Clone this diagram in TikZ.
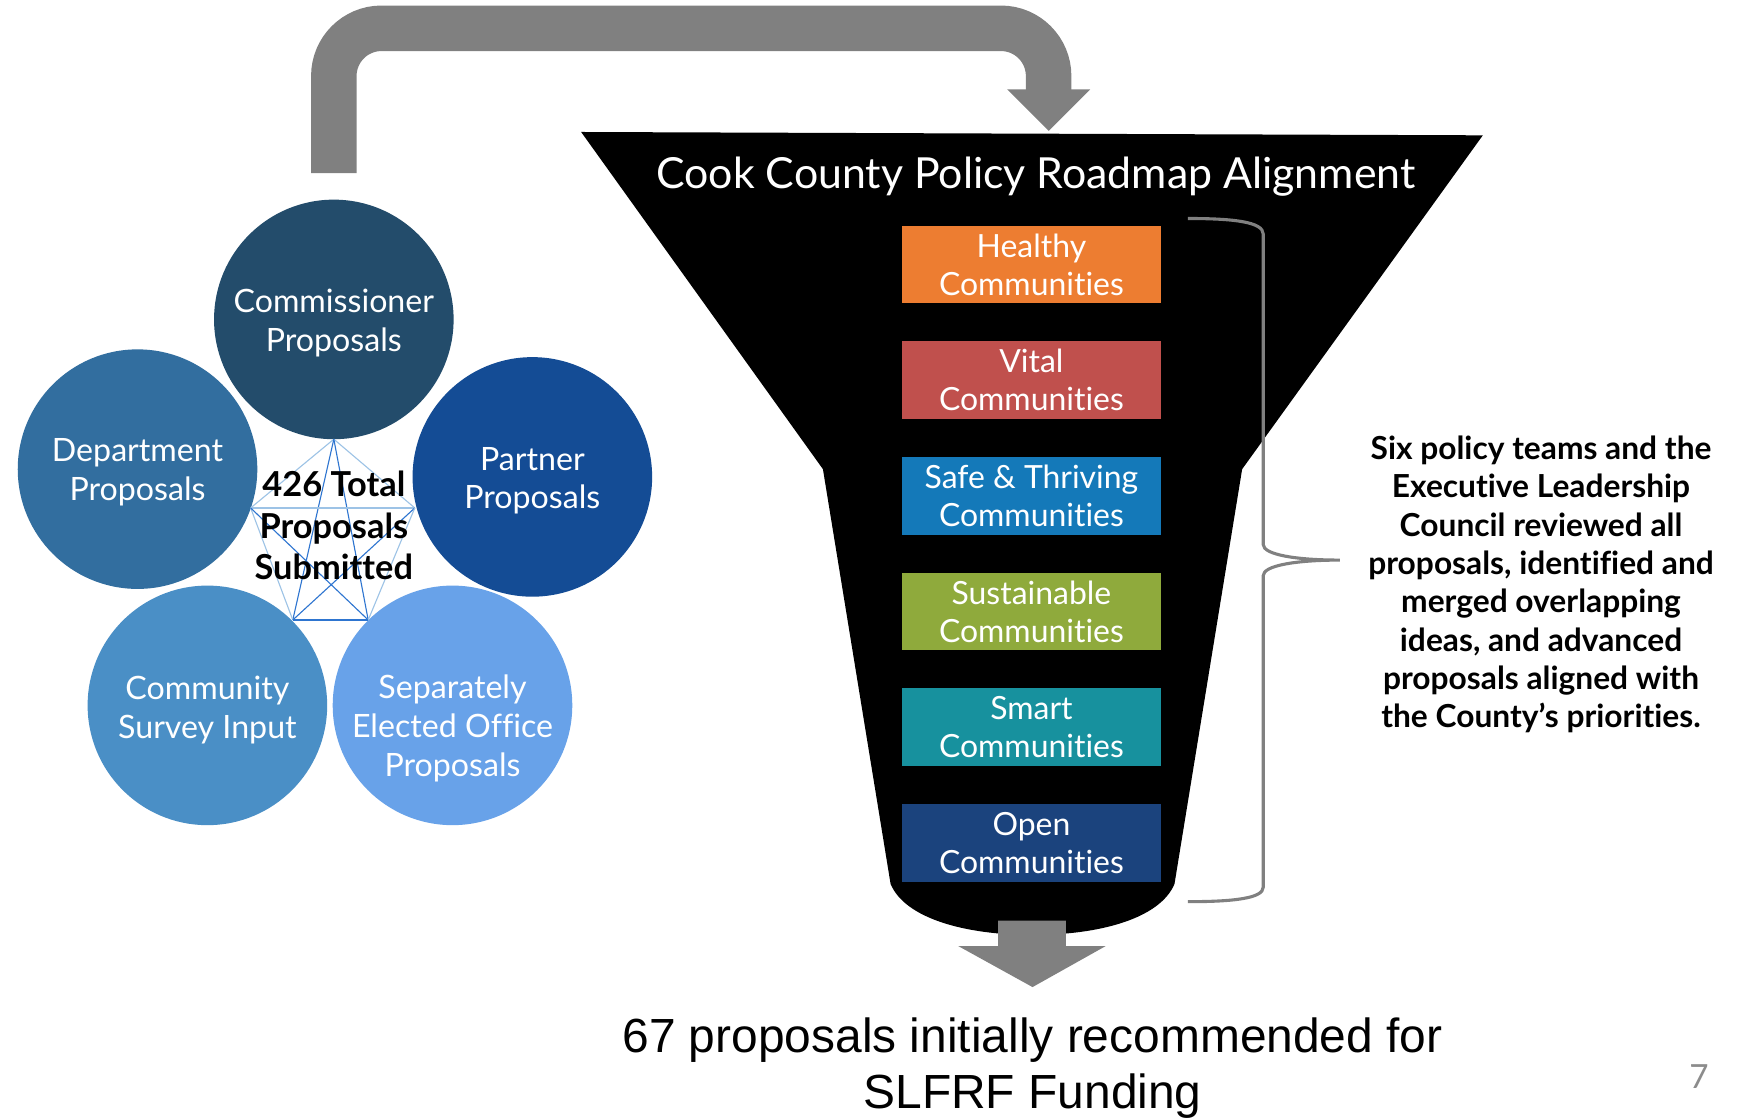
\documentclass[tikz,border=0pt]{standalone}
\usepackage{fontspec}
\setmainfont{Lato}[Ligatures={NoCommon,NoRare,NoContextual},Contextuals=NoAlternate]
\newfontfamily\arialfont{Liberation Sans}
\newcommand\nolig{\kern0pt}
\definecolor{ccomm}{RGB}{35,76,107}
\definecolor{cdept}{RGB}{50,110,159}
\definecolor{cpart}{RGB}{20,76,149}
\definecolor{ccomu}{RGB}{74,143,198}
\definecolor{csep}{RGB}{104,162,233}
\definecolor{chealthy}{RGB}{237,125,49}
\definecolor{cvital}{RGB}{192,80,77}
\definecolor{csafe}{RGB}{20,121,185}
\definecolor{csust}{RGB}{143,170,60}
\definecolor{csmart}{RGB}{23,145,158}
\definecolor{copen}{RGB}{27,67,125}
\definecolor{arrowgray}{RGB}{128,128,128}
\definecolor{weblight}{RGB}{157,195,230}
\definecolor{webdark}{RGB}{46,117,208}
\definecolor{numgray}{RGB}{140,140,140}
\begin{document}
\begin{tikzpicture}[x=0.5pt,y=-0.5pt,
  circ/.style={circle, minimum size=108pt, inner sep=0pt, text=white, align=center,
    font=\fontsize{14.5}{17.5}\selectfont},
  ctext/.style={text=white, align=center, font=\fontsize{14.5}{17.5}\selectfont},
  pbox/.style={minimum width=117pt, minimum height=35pt, inner sep=0pt, text=white,
    align=center, font=\fontsize{14.4}{17}\selectfont},
  webl/.style={line width=0.5pt, draw=weblight},
  webd/.style={line width=0.5pt, draw=webdark},
  bigarrow/.style={draw=arrowgray, line width=20.5pt, rounded corners=21.5pt},
  brace/.style={draw=arrowgray, line width=1.4pt},
]
\useasboundingbox (0,0) rectangle (1568,1008);
\fill[white] (0,0) rectangle (1568,1008);

% circles
\node[circ, fill=ccomm] (comm) at (301,288) {};
\node[ctext] (commtext) at (301,291) {Commissioner\\Proposals};
\node[circ, fill=cdept] (dept) at (124,423) {};
\node[ctext] (depttext) at (124,426) {Department\\Proposals};
\node[circ, fill=cpart] (part) at (480,430) {};
\node[ctext] (parttext) at (480,433.5) {Partner\\Proposals};
\node[circ, fill=ccomu] (comu) at (187,636) {};
\node[ctext] (comutext) at (187,640) {Community\\Survey Input};
\node[circ, fill=csep] (sep) at (408,636) {};
\node[ctext] (septext) at (408,657) {Separately\\Elected Of\nolig f\nolig ice\\Proposals};

% web between circles
\coordinate (p1) at (301,396);
\coordinate (p2) at (226,458);
\coordinate (p3) at (374,458);
\coordinate (p4) at (264,559);
\coordinate (p5) at (332,559);
\draw[webl] (p1) -- (p2);
\draw[webl] (p1) -- (p3);
\draw[webd] (p1) -- (p4);
\draw[webd] (p1) -- (p5);
\draw[webl] (p2) -- (p3);
\draw[webl] (p2) -- (p4);
\draw[webd] (p2) -- (p5);
\draw[webd] (p3) -- (p4);
\draw[webl] (p3) -- (p5);
\draw[webd] (p4) -- (p5);
\node[align=center, font=\bfseries\fontsize{15.5}{18.7}\selectfont] (total) at (301,474) {426 Total\\Proposals\\Submit\nolig t\nolig ed};

% top arrow
\coordinate (astart) at (301,156);
\coordinate (aend) at (945.5,81);
\coordinate (atop) at (0,25.5);
\draw[bigarrow] (astart) -- (astart |- atop) -- (aend |- atop) -- (aend);
\fill[arrowgray] (908,80.5) -- (983,80.5) -- (945.5,118) -- cycle;

% funnel
\fill[black] (524,119) -- (1337,122) -- (1120,423) -- (1059,797)
  .. controls (1046,828) and (992,843) .. (931,843)
  .. controls (870,843) and (816,828) .. (803,797) -- (742,423) -- cycle;
\node[text=white, font=\fontsize{19.3}{23}\selectfont] (title) at (934,159) {Cook County Policy Roadmap Alignment};

% boxes
\node[pbox, fill=chealthy] (healthy) at (930,238.5) {Healthy\\Communit\nolig ies};
\node[pbox, fill=cvital] (vital) at (930,342.5) {Vital\\Communit\nolig ies};
\node[pbox, fill=csafe] (safe) at (930,447) {Safe \& Thriving\\Communit\nolig ies};
\node[pbox, fill=csust] (sust) at (930,551.5) {Sustainable\\Communit\nolig ies};
\node[pbox, fill=csmart] (smart) at (930,655.5) {Smart\\Communit\nolig ies};
\node[pbox, fill=copen] (open) at (930,760) {Open\\Communit\nolig ies};

% brace
\draw[brace] (1071,197) .. controls (1112,197) and (1139,200) .. (1139,211)
  -- (1139,491) .. controls (1139,500) and (1168,505) .. (1208,505)
  .. controls (1168,505) and (1139,510) .. (1139,519)
  -- (1139,800) .. controls (1139,810) and (1112,813) .. (1071,813);

% note text
\node[align=center, font=\bfseries\fontsize{14.3}{17.3}\selectfont] (note) at (1389.5,527) {Six policy teams and the\\Execut\nolig ive Leadership\\Council reviewed all\\proposals, ident\nolig if\nolig ied and\\merged overlapping\\ideas, and advanced\\proposals aligned with\\the County’s priorit\nolig ies.};

% bottom arrow
\fill[arrowgray] (900,830) -- (961,830) -- (961,853) -- (997,853) -- (931,890)
  -- (864,853) -- (900,853) -- cycle;
\node[align=center, font=\arialfont\fontsize{21.6}{25.5}\selectfont] (result) at (931,963) {67 proposals initially recommended for\\SLFRF Funding};

% page number
\node[text=numgray, font=\fontsize{15}{18}\selectfont] (pagenum) at (1532,971) {7};
\end{tikzpicture}
\end{document}
